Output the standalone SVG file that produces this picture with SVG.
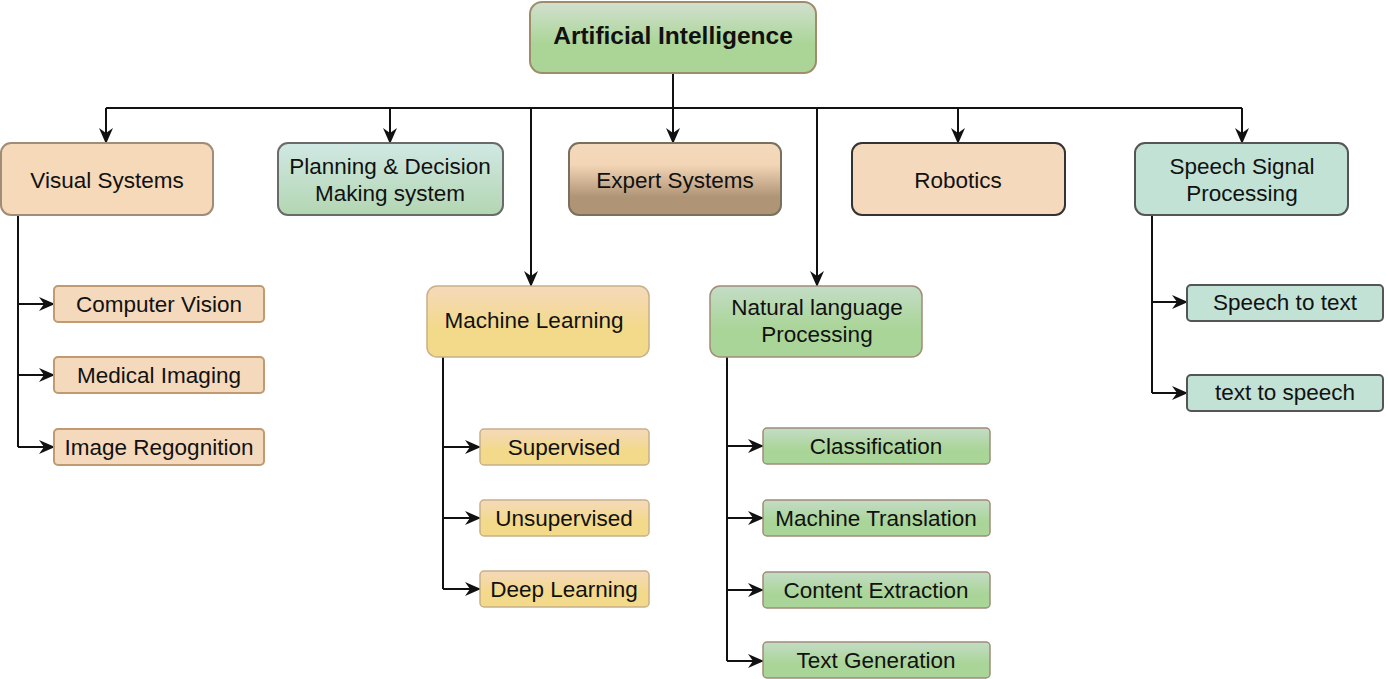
<svg xmlns="http://www.w3.org/2000/svg" width="1388" height="679" viewBox="0 0 1388 679">
<defs>
<linearGradient id="gRoot" x1="0" y1="0" x2="0" y2="1"><stop offset="0" stop-color="#d2e0cf"/><stop offset="0.6" stop-color="#aad596"/><stop offset="1" stop-color="#aad596"/></linearGradient>
<linearGradient id="gPlan" x1="0" y1="0" x2="0" y2="1"><stop offset="0" stop-color="#d0e8e4"/><stop offset="1" stop-color="#b3d6b2"/></linearGradient>
<linearGradient id="gExp" x1="0" y1="0" x2="0" y2="1"><stop offset="0" stop-color="#f5d9bc"/><stop offset="0.3" stop-color="#f3d6b6"/><stop offset="0.75" stop-color="#b09476"/><stop offset="1" stop-color="#b09476"/></linearGradient>
<linearGradient id="gML" x1="0" y1="0" x2="0" y2="1"><stop offset="0" stop-color="#f5d9bc"/><stop offset="0.6" stop-color="#f3d98a"/><stop offset="1" stop-color="#f3d98a"/></linearGradient>
<linearGradient id="gNLP" x1="0" y1="0" x2="0" y2="1"><stop offset="0" stop-color="#c4dcc6"/><stop offset="0.6" stop-color="#aad598"/><stop offset="1" stop-color="#aad598"/></linearGradient>
<marker id="arr" markerUnits="userSpaceOnUse" markerWidth="16" markerHeight="14" refX="15" refY="7" orient="auto"><path d="M0,0 L16,7 L0,14 L5,7 Z" fill="#111"/></marker>
</defs>
<style>
text{font-family:"Liberation Sans",Arial,Helvetica,sans-serif;font-size:22.5px;fill:#111;text-anchor:middle}
.b{font-weight:bold;font-size:24.5px}
.s{font-size:22.5px}
.ln{fill:none;stroke:#111;stroke-width:2}
.ar{fill:none;stroke:#111;stroke-width:2;marker-end:url(#arr)}
</style>
<g id="connectors">
<path class="ln" d="M673,73 V108 M106,108 H1242"/>
<path class="ar" d="M106,108 V143"/>
<path class="ar" d="M390,108 V143"/>
<path class="ar" d="M531,108 V286"/>
<path class="ar" d="M673,108 V143"/>
<path class="ar" d="M817,108 V286"/>
<path class="ar" d="M958,108 V143"/>
<path class="ar" d="M1242,108 V143"/>
<path class="ln" d="M18,215 V447"/>
<path class="ar" d="M18,304 H54"/>
<path class="ar" d="M18,375 H54"/>
<path class="ar" d="M18,447 H54"/>
<path class="ln" d="M443,357 V589"/>
<path class="ar" d="M443,447 H480"/>
<path class="ar" d="M443,518 H480"/>
<path class="ar" d="M443,589 H480"/>
<path class="ln" d="M727,357 V661"/>
<path class="ar" d="M727,446 H763"/>
<path class="ar" d="M727,518 H763"/>
<path class="ar" d="M727,590 H763"/>
<path class="ar" d="M727,661 H763"/>
<path class="ln" d="M1152,215 V393"/>
<path class="ar" d="M1152,302 H1187"/>
<path class="ar" d="M1152,393 H1187"/>
</g>
<g id="root"><rect x="530" y="2" width="286" height="71" rx="12" fill="url(#gRoot)" stroke="#a08c6a" stroke-width="2"/><text class="b" x="673" y="44">Artificial Intelligence</text></g>
<g id="visual"><rect x="1" y="143" width="212" height="72" rx="10" fill="#f5d9b8" stroke="#a08c78" stroke-width="2"/><text x="107" y="188">Visual Systems</text></g>
<g id="planning"><rect x="278" y="143" width="225" height="72" rx="10" fill="url(#gPlan)" stroke="#6a6a6a" stroke-width="2"/><text x="390" y="174">Planning &amp; Decision</text><text x="390" y="201">Making system</text></g>
<g id="expert"><rect x="569" y="143" width="212" height="72" rx="10" fill="url(#gExp)" stroke="#7a7060" stroke-width="2"/><text x="675" y="188">Expert Systems</text></g>
<g id="robotics"><rect x="852" y="143" width="213" height="72" rx="10" fill="#f5d9bc" stroke="#333" stroke-width="2"/><text x="958" y="188">Robotics</text></g>
<g id="speech"><rect x="1135" y="143" width="213" height="72" rx="10" fill="#c2e2d6" stroke="#555" stroke-width="2"/><text x="1242" y="174">Speech Signal</text><text x="1242" y="201">Processing</text></g>
<g id="ml"><rect x="427" y="286" width="222" height="71" rx="10" fill="url(#gML)" stroke="#c8b088" stroke-width="1.5"/><text x="534" y="328">Machine Learning</text></g>
<g id="nlp"><rect x="710" y="286" width="212" height="71" rx="10" fill="url(#gNLP)" stroke="#a08c78" stroke-width="1.5"/><text x="817" y="315">Natural language</text><text x="817" y="342">Processing</text></g>
<g id="cv"><rect x="54" y="286" width="210" height="36" rx="4" fill="#f5d9bc" stroke="#c09a70" stroke-width="2"/><text class="s" x="159" y="312">Computer Vision</text></g>
<g id="mi"><rect x="54" y="357" width="210" height="36" rx="4" fill="#f5d9bc" stroke="#c09a70" stroke-width="2"/><text class="s" x="159" y="383">Medical Imaging</text></g>
<g id="ir"><rect x="54" y="429" width="210" height="36" rx="4" fill="#f5d9bc" stroke="#c09a70" stroke-width="2"/><text class="s" x="159" y="455">Image Regognition</text></g>
<g id="sup"><rect x="480" y="429" width="169" height="36" rx="4" fill="url(#gML)" stroke="#c8b088" stroke-width="1.5"/><text class="s" x="564" y="455">Supervised</text></g>
<g id="unsup"><rect x="480" y="500" width="169" height="36" rx="4" fill="url(#gML)" stroke="#c8b088" stroke-width="1.5"/><text class="s" x="564" y="526">Unsupervised</text></g>
<g id="dl"><rect x="480" y="571" width="169" height="36" rx="4" fill="url(#gML)" stroke="#c8b088" stroke-width="1.5"/><text class="s" x="564" y="597">Deep Learning</text></g>
<g id="cls"><rect x="763" y="428" width="227" height="36" rx="4" fill="url(#gNLP)" stroke="#a08c78" stroke-width="1.5"/><text class="s" x="876" y="454">Classification</text></g>
<g id="mt"><rect x="763" y="500" width="227" height="36" rx="4" fill="url(#gNLP)" stroke="#a08c78" stroke-width="1.5"/><text class="s" x="876" y="526">Machine Translation</text></g>
<g id="ce"><rect x="763" y="572" width="227" height="36" rx="4" fill="url(#gNLP)" stroke="#a08c78" stroke-width="1.5"/><text class="s" x="876" y="598">Content Extraction</text></g>
<g id="tg"><rect x="763" y="642" width="227" height="36" rx="4" fill="url(#gNLP)" stroke="#a08c78" stroke-width="1.5"/><text class="s" x="876" y="668">Text Generation</text></g>
<g id="stt"><rect x="1187" y="285" width="196" height="36" rx="4" fill="#c2e2d6" stroke="#555" stroke-width="2"/><text class="s" x="1285" y="310">Speech to text</text></g>
<g id="tts"><rect x="1187" y="375" width="196" height="36" rx="4" fill="#c2e2d6" stroke="#555" stroke-width="2"/><text class="s" x="1285" y="400">text to speech</text></g>
</svg>
